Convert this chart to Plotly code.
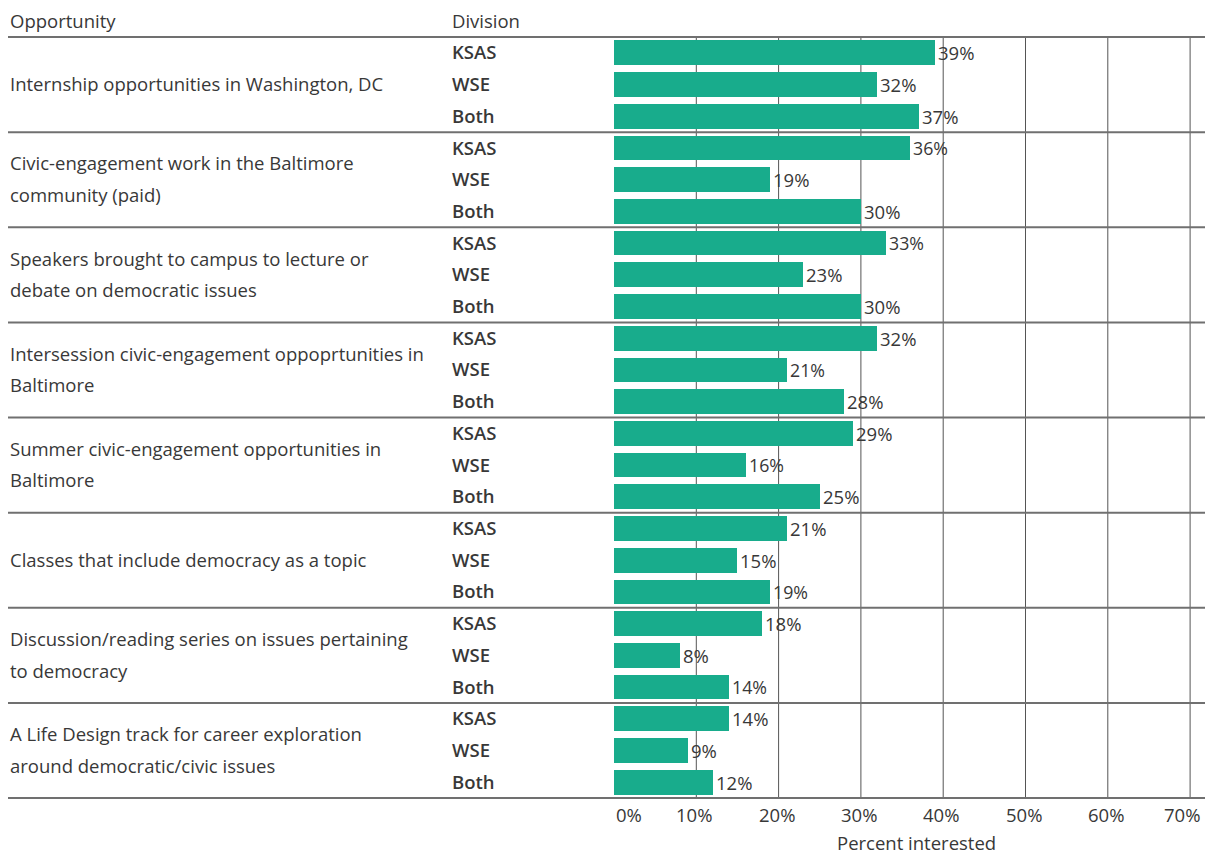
import plotly.graph_objects as go

opportunities = [
    "Internship opportunities in Washington, DC",
    "Civic-engagement work in the Baltimore<br>community (paid)",
    "Speakers brought to campus to lecture or<br>debate on democratic issues",
    "Intersession civic-engagement oppoprtunities in<br>Baltimore",
    "Summer civic-engagement opportunities in<br>Baltimore",
    "Classes that include democracy as a topic",
    "Discussion/reading series on issues pertaining<br>to democracy",
    "A Life Design track for career exploration<br>around democratic/civic issues",
]
divisions = ["KSAS", "WSE", "Both"]
ksas = [39, 36, 33, 32, 29, 21, 18, 14]
wse = [32, 19, 23, 21, 16, 15, 8, 9]
both = [37, 30, 30, 28, 25, 19, 14, 12]
x_ticks = [0, 10, 20, 30, 40, 50, 60, 70]
x_tick_labels = [f"{t}%" for t in x_ticks]
x_title = "Percent interested"

OFF = 8  # page body margin
W, H = 1213 - OFF, 856 - OFF
L, R, T, B = 614 - OFF, 0, 37 - OFF, 856 - 798
plot_w = W - L - R
plot_h = H - T - B
px_per_unit = 8.23
x_max = plot_w / px_per_unit

FONT = "Open Sans"
TXT = "#383838"
BAR = "#18ac8c"
LINE = "#707070"
FS = 18.5

n_groups = len(opportunities)
n_rows = n_groups * len(divisions)

ys, xs, texts = [], [], []
for g in range(n_groups):
    for d, series in enumerate([ksas, wse, both]):
        ys.append(g * len(divisions) + d)
        xs.append(series[g])
        texts.append(f"{series[g]}%")

fig = go.Figure()
fig.add_trace(go.Bar(
    x=xs, y=ys, orientation="h", width=0.78,
    marker=dict(color=BAR, line=dict(width=0)),
    text=texts, textposition="outside",
    textfont=dict(family=FONT, size=FS, color=TXT),
    cliponaxis=False, hoverinfo="skip",
))

def sx(px):  # screen px -> paper x
    return (px - OFF - L) / plot_w

def sy(py):  # screen px -> paper y
    return 1 - (py - OFF - T) / plot_h

shapes = []
for t in x_ticks[1:]:
    shapes.append(dict(type="line", xref="x", yref="paper", x0=t, x1=t, y0=0, y1=1,
                       line=dict(color="#555555", width=1), layer="below"))
for k in range(0, n_rows + 1, len(divisions)):
    yp = 1 - k / n_rows
    shapes.append(dict(type="line", xref="paper", yref="paper",
                       x0=sx(8), x1=1, y0=yp, y1=yp,
                       line=dict(color=LINE, width=2), layer="above"))

annotations = []
font_base = dict(family=FONT, size=FS, color=TXT)
for txt, xp in [("Opportunity", 8), ("Division", 450)]:
    annotations.append(dict(text=txt, xref="paper", yref="paper",
                            x=sx(xp), y=sy(20), xanchor="left", yanchor="middle",
                            showarrow=False, font=font_base))
for g, opp in enumerate(opportunities):
    lines = opp.split("<br>")
    center = g * len(divisions) + 1
    positions = [center] if len(lines) == 1 else [center - 0.5, center + 0.5]
    for ln, yv in zip(lines, positions):
        annotations.append(dict(text=ln, xref="paper", yref="y",
                                x=sx(8), y=yv - 0.03, xanchor="left", yanchor="middle",
                                showarrow=False, font=font_base))
for g in range(n_groups):
    for d, dv in enumerate(divisions):
        annotations.append(dict(text=dv, xref="paper", yref="y",
                                x=sx(450), y=g * len(divisions) + d - 0.03,
                                xanchor="left", yanchor="middle", showarrow=False,
                                font=dict(family=FONT, size=FS, color=TXT, weight=600)))
# x tick labels (as annotations so the end labels stay inside the page)
for i, (t, lab) in enumerate(zip(x_ticks, x_tick_labels)):
    if i == 0:
        anchor, shift = "left", 0
    elif i == len(x_ticks) - 1:
        anchor, shift = "center", -8
    else:
        anchor, shift = "center", -2
    annotations.append(dict(text=lab, xref="x", yref="paper", x=t, y=sy(815),
                            xanchor=anchor, yanchor="middle", xshift=shift,
                            showarrow=False, font=font_base))
annotations.append(dict(text=x_title, xref="paper", yref="paper", x=sx(916), y=sy(842.5),
                        xanchor="center", yanchor="middle", showarrow=False, font=font_base))

fig.update_layout(
    width=W, height=H,
    margin=dict(l=L, r=R, t=T, b=B, pad=0),
    paper_bgcolor="white", plot_bgcolor="white",
    showlegend=False, bargap=0,
    font=font_base,
    shapes=shapes, annotations=annotations,
    xaxis=dict(range=[0, x_max], showticklabels=False,
               showgrid=False, zeroline=False, showline=False, ticks="",
               fixedrange=True),
    yaxis=dict(range=[n_rows - 0.5, -0.5], showticklabels=False, showgrid=False,
               zeroline=False, showline=False, ticks="", fixedrange=True),
)

fig.write_html("out.html")
